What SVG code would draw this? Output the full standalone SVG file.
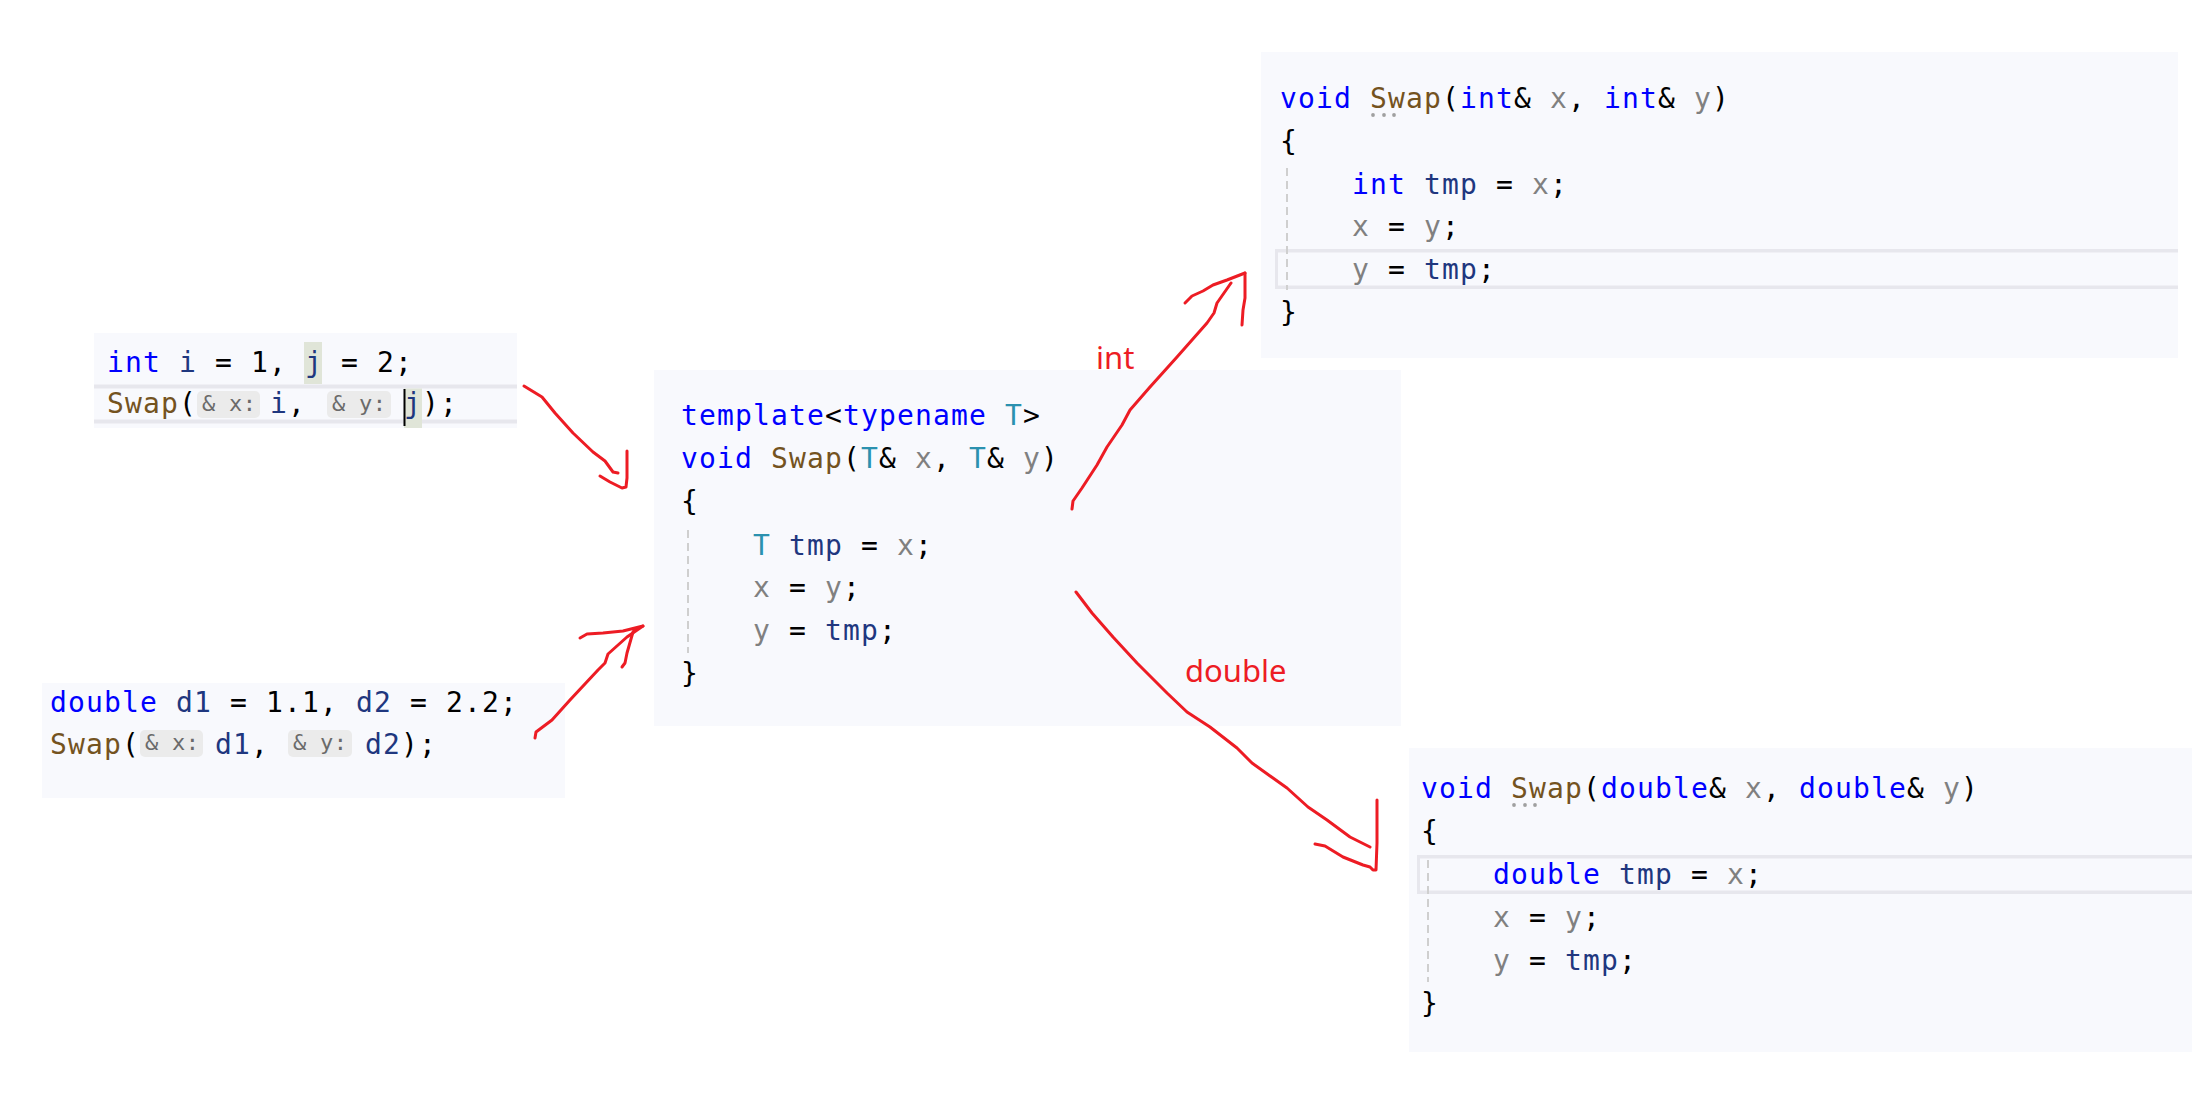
<svg xmlns="http://www.w3.org/2000/svg" width="2192" height="1105" viewBox="0 0 2192 1105">
<style>
.panel{fill:#f8f9fd}
.code{font-family:"DejaVu Sans Mono","Liberation Mono",monospace;font-size:28px;letter-spacing:1.14px;fill:#000}
.hint{font-family:"DejaVu Sans Mono","Liberation Mono",monospace;font-size:22px;letter-spacing:0.3px;fill:#6a6a6a}
.hbox{fill:#ebebeb}
.kw{fill:#0000ff}
.fn{fill:#74531f}
.lv{fill:#1f377f}
.pm{fill:#808080}
.ty{fill:#2b91af}
.band{fill:#e7e7ed}
.guide{stroke:#cfcfcf;stroke-width:2;stroke-dasharray:8 5;fill:none}
.dot{fill:#a0a0a0}
.sel{fill:#e0e5d8}
.ink{stroke:#ed1c24;stroke-width:3;fill:none;stroke-linejoin:round;stroke-linecap:round}
.lbl{font-family:"Noto Sans","Open Sans",sans-serif;font-size:31px;fill:#ed1c24}
</style>
<rect width="2192" height="1105" fill="#ffffff"/>

<g id="call-int">
<rect class="panel" x="94" y="333" width="423" height="95"/>
<rect class="band" x="94" y="384.5" width="423" height="4"/>
<rect class="band" x="94" y="419.5" width="423" height="4"/>
<rect class="sel" x="304" y="342" width="18" height="42"/>
<rect class="sel" x="404" y="388.5" width="18" height="39.5"/>
<text class="code" x="107" y="372" xml:space="preserve"><tspan class="kw">int</tspan> <tspan class="lv">i</tspan> = 1, <tspan class="lv">j</tspan> = 2;</text>
<text class="code" x="107" y="413"><tspan class="fn">Swap</tspan>(</text>
<rect class="hbox" x="197" y="391" width="63" height="27" rx="5"/>
<text class="hint" x="202" y="411" xml:space="preserve">&amp; x:</text>
<text class="code" x="270" y="413"><tspan class="lv">i</tspan>,</text>
<rect class="hbox" x="327" y="391" width="64" height="27" rx="5"/>
<text class="hint" x="332" y="411" xml:space="preserve">&amp; y:</text>
<text class="code" x="404" y="413"><tspan class="lv">j</tspan>);</text>
<line x1="404.5" y1="389" x2="404.5" y2="426" stroke="#000" stroke-width="2"/>
</g>

<g id="call-double">
<rect class="panel" x="42" y="683" width="523" height="115"/>
<text class="code" x="50" y="712" xml:space="preserve"><tspan class="kw">double</tspan> <tspan class="lv">d1</tspan> = 1.1, <tspan class="lv">d2</tspan> = 2.2;</text>
<text class="code" x="50" y="754"><tspan class="fn">Swap</tspan>(</text>
<rect class="hbox" x="140" y="730" width="63" height="27" rx="5"/>
<text class="hint" x="145" y="750" xml:space="preserve">&amp; x:</text>
<text class="code" x="215" y="754"><tspan class="lv">d1</tspan>,</text>
<rect class="hbox" x="288" y="730" width="64" height="27" rx="5"/>
<text class="hint" x="293" y="750" xml:space="preserve">&amp; y:</text>
<text class="code" x="365" y="754"><tspan class="lv">d2</tspan>);</text>
</g>

<g id="template">
<rect class="panel" x="654" y="370" width="747" height="356"/>
<line class="guide" x1="688" y1="530" x2="688" y2="653"/>
<text class="code" x="681" y="425" xml:space="preserve"><tspan class="kw">template</tspan>&lt;<tspan class="kw">typename</tspan> <tspan class="ty">T</tspan>&gt;</text>
<text class="code" x="681" y="468" xml:space="preserve"><tspan class="kw">void</tspan> <tspan class="fn">Swap</tspan>(<tspan class="ty">T</tspan>&amp; <tspan class="pm">x</tspan>, <tspan class="ty">T</tspan>&amp; <tspan class="pm">y</tspan>)</text>
<text class="code" x="681" y="511">{</text>
<text class="code" x="753" y="555" xml:space="preserve"><tspan class="ty">T</tspan> <tspan class="lv">tmp</tspan> = <tspan class="pm">x</tspan>;</text>
<text class="code" x="753" y="597" xml:space="preserve"><tspan class="pm">x</tspan> = <tspan class="pm">y</tspan>;</text>
<text class="code" x="753" y="640" xml:space="preserve"><tspan class="pm">y</tspan> = <tspan class="lv">tmp</tspan>;</text>
<text class="code" x="681" y="683">}</text>
</g>

<g id="swap-int">
<rect class="panel" x="1261" y="52" width="917" height="306"/>
<rect class="band" x="1275" y="249" width="903" height="3.5"/>
<rect class="band" x="1275" y="285.5" width="903" height="3.5"/>
<rect class="band" x="1275" y="249" width="3" height="40"/>
<line class="guide" x1="1287" y1="168" x2="1287" y2="290"/>
<text class="code" x="1280" y="108" xml:space="preserve"><tspan class="kw">void</tspan> <tspan class="fn">Swap</tspan>(<tspan class="kw">int</tspan>&amp; <tspan class="pm">x</tspan>, <tspan class="kw">int</tspan>&amp; <tspan class="pm">y</tspan>)</text>
<circle class="dot" cx="1373" cy="115" r="1.9"/>
<circle class="dot" cx="1384" cy="115" r="1.9"/>
<circle class="dot" cx="1394" cy="115" r="1.9"/>
<text class="code" x="1280" y="151">{</text>
<text class="code" x="1352" y="194" xml:space="preserve"><tspan class="kw">int</tspan> <tspan class="lv">tmp</tspan> = <tspan class="pm">x</tspan>;</text>
<text class="code" x="1352" y="236" xml:space="preserve"><tspan class="pm">x</tspan> = <tspan class="pm">y</tspan>;</text>
<text class="code" x="1352" y="279" xml:space="preserve"><tspan class="pm">y</tspan> = <tspan class="lv">tmp</tspan>;</text>
<text class="code" x="1280" y="322">}</text>
</g>

<g id="swap-double">
<rect class="panel" x="1409" y="748" width="783" height="304"/>
<rect class="band" x="1417" y="855" width="775" height="3.5"/>
<rect class="band" x="1417" y="890.5" width="775" height="3.5"/>
<rect class="band" x="1417" y="855" width="3" height="39"/>
<line class="guide" x1="1428" y1="860" x2="1428" y2="982"/>
<text class="code" x="1421" y="798" xml:space="preserve"><tspan class="kw">void</tspan> <tspan class="fn">Swap</tspan>(<tspan class="kw">double</tspan>&amp; <tspan class="pm">x</tspan>, <tspan class="kw">double</tspan>&amp; <tspan class="pm">y</tspan>)</text>
<circle class="dot" cx="1514" cy="805" r="1.9"/>
<circle class="dot" cx="1525" cy="805" r="1.9"/>
<circle class="dot" cx="1535" cy="805" r="1.9"/>
<text class="code" x="1421" y="841">{</text>
<text class="code" x="1493" y="884" xml:space="preserve"><tspan class="kw">double</tspan> <tspan class="lv">tmp</tspan> = <tspan class="pm">x</tspan>;</text>
<text class="code" x="1493" y="927" xml:space="preserve"><tspan class="pm">x</tspan> = <tspan class="pm">y</tspan>;</text>
<text class="code" x="1493" y="970" xml:space="preserve"><tspan class="pm">y</tspan> = <tspan class="lv">tmp</tspan>;</text>
<text class="code" x="1421" y="1013">}</text>
</g>

<g id="connectors">
<polyline class="ink" points="524,386 542,397 555,413 573,433 593,452 605,461 613,472 618,473"/>
<polyline class="ink" points="600,476 610,482 622,488 626,487 627,478 627,451"/>

<polyline class="ink" points="535,738 536,732 552,720 570,700 598,670 605,663 608,654 627,637 643,626"/>
<polyline class="ink" points="580,638 587,634 603,633 623,631 643,626"/>
<polyline class="ink" points="622,667 625,663 627,653 633,632 635,629"/>

<polyline class="ink" points="1072,509 1073,501 1082,488 1097,465 1107,447 1122,425 1130,410 1150,387 1177,357 1207,323 1214,313 1217,303 1231,283"/>
<polyline class="ink" points="1185,303 1192,296 1203,291 1213,285 1227,280 1245,273"/>
<polyline class="ink" points="1242,325 1243,310 1245,298 1245,273"/>

<polyline class="ink" points="1076,592 1092,613 1113,637 1137,663 1167,693 1187,712 1210,727 1237,748 1252,763 1287,788 1308,807 1327,820 1350,837 1370,847"/>
<polyline class="ink" points="1315,844 1325,846 1343,857 1363,865 1370,867 1373,870 1376,870 1377,843 1377,800"/>

<text class="lbl" x="1096" y="369">int</text>
<text class="lbl" x="1185" y="682">double</text>
</g>
</svg>
